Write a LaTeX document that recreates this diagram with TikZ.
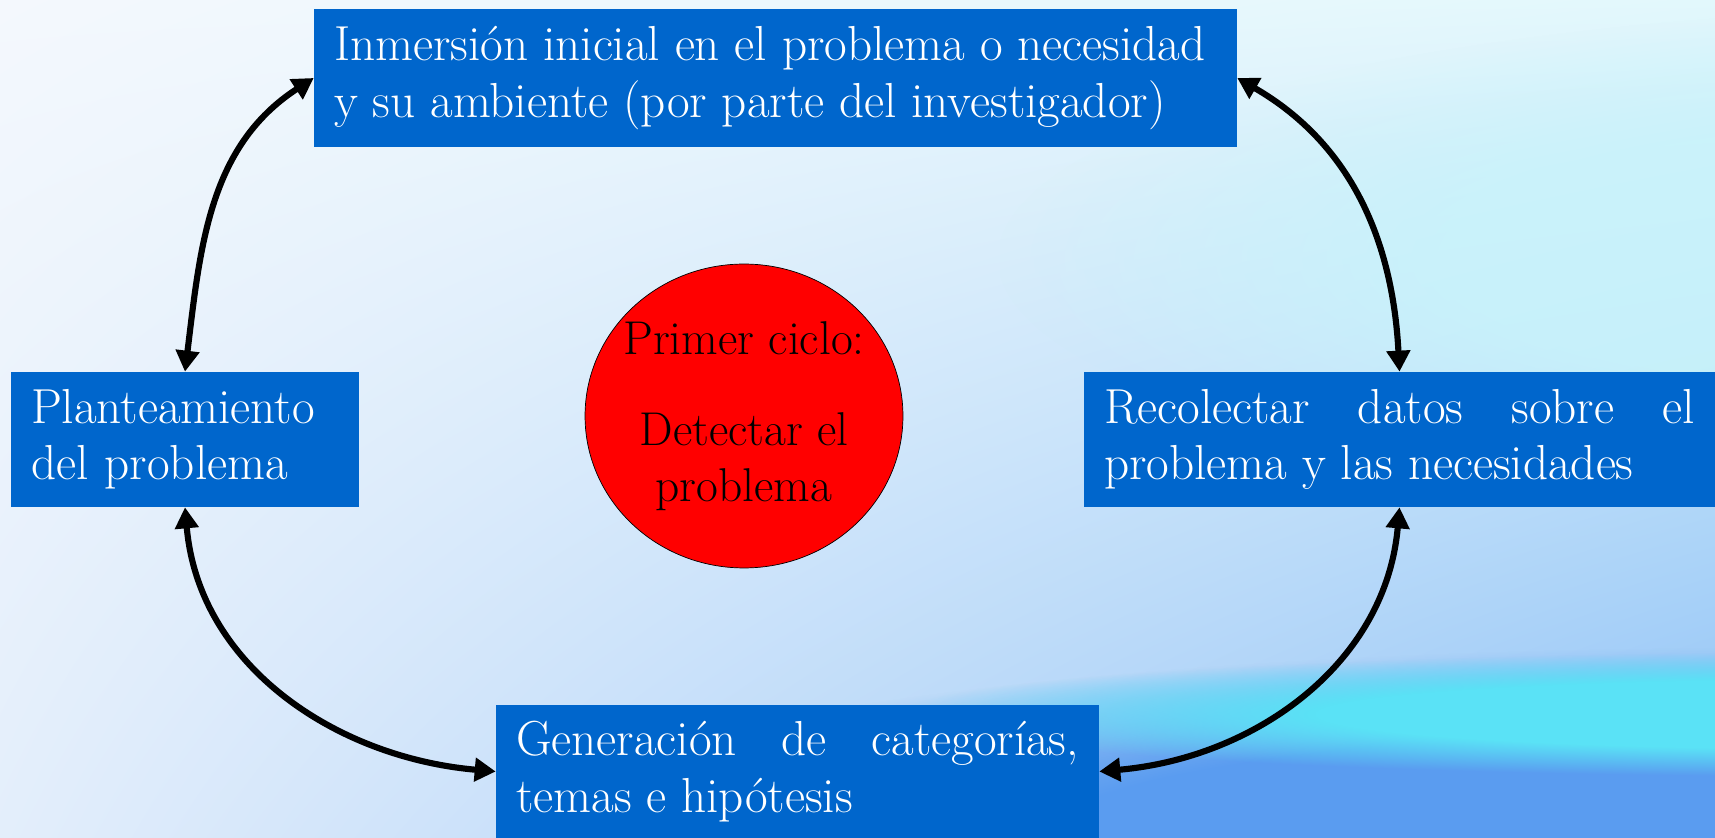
\documentclass[tikz,border=0pt]{standalone}
\usetikzlibrary{arrows.meta,positioning,shapes.geometric,shadings,fadings}
\definecolor{cajaazul}{HTML}{0066CC}
\definecolor{fondoA}{HTML}{F4F8FD}
\definecolor{fondoB}{HTML}{E2F8FC}
\definecolor{fondoC}{HTML}{E3EEFB}
\definecolor{fondoD}{HTML}{8EC0F6}
\definecolor{franjaCian}{HTML}{5AE2F6}
\definecolor{franjaAzul}{HTML}{5A9CF0}
\definecolor{franjaClara}{HTML}{C8F4FA}
\pgfdeclareradialshading{sombraDif}{\pgfpoint{0bp}{0bp}}{color(0bp)=(white); color(14bp)=(white); color(25bp)=(black); color(50bp)=(black)}
\pgfdeclarefading{difuso}{\pgfuseshading{sombraDif}}

\begin{document}
\begin{tikzpicture}[x=0.02cm,y=0.02cm,
  every node/.style={font=\fontsize{28}{32}\selectfont},
  caja/.style={rectangle,fill=cajaazul,text=white,inner xsep=0.4cm,inner ysep=0pt,align=justify},
  elipse/.style={ellipse,draw=black,thin,fill=red,minimum width=6.36cm,minimum height=6.08cm,inner sep=0pt},
  flecha/.style={line width=3.5pt,>={Triangle[length=4.2mm,width=4.6mm]},<->}]
\shade[upper left=fondoA,upper right=fondoB,lower left=fondoC,lower right=fondoD] (0,0) rectangle (1715,838);
\useasboundingbox (0,0) rectangle (1715,838);
\fill[franjaClara,path fading=difuso,opacity=.8] (1000,330) rectangle (3000,830);
\fill[franjaAzul,path fading=difuso] (500,-190) rectangle (3000,190);
\fill[franjaCian,path fading=difuso] (900,62) rectangle (2800,186);
\coordinate (c0) at (775.5,760);
\coordinate (c1) at (185,398.5);
\coordinate (c2) at (1399.5,398.5);
\coordinate (c3) at (797.5,66.5);
\coordinate (c4) at (744,422);
\node[caja,text width=17.66cm,minimum height=2.76cm] (inmer) at (c0) {Inmersión inicial en el problema o necesidad\\y su ambiente (por parte del investigador)};
\node[caja,text width=6.16cm,minimum height=2.7cm,align=left] (plant) at (c1) {Planteamiento\\del problema};
\node[caja,text width=11.82cm,minimum height=2.7cm] (recol) at (c2) {Recolectar datos sobre el\linebreak problema y las necesidades};
\node[caja,text width=11.26cm,minimum height=2.66cm] (gener) at (c3) {Generación de categorías,\linebreak temas e hipótesis};
\node[elipse] (ciclo) at (c4) {};
\node[align=center,font=\fontsize{27}{32}\selectfont] (cicloTxt) at (ciclo.center) {Primer ciclo:\\[20pt]Detectar el\\problema};
\draw[flecha] (plant.north) to[out=83,in=213] (inmer.west);
\draw[flecha] (inmer.east) to[out=-30,in=93] (recol.north);
\draw[flecha] (plant.south) to[out=-85,in=175] (gener.west);
\draw[flecha] (recol.south) to[out=-95,in=5] (gener.east);
\end{tikzpicture}
\end{document}
